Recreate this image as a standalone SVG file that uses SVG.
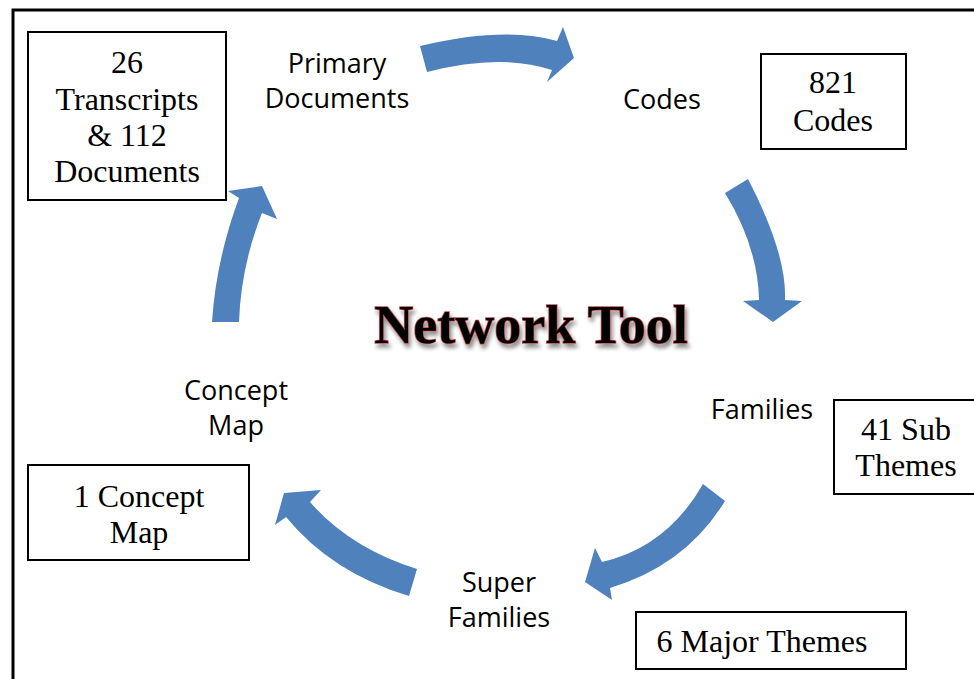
<svg xmlns="http://www.w3.org/2000/svg" width="974" height="679" viewBox="0 0 974 679">
<defs>
<style>
.box{fill:#fff;stroke:#000;stroke-width:2}
.bt{font-family:"Liberation Serif","Times New Roman",serif;font-size:32px;fill:#000;text-anchor:middle}
.lb{font-family:"Open Sans","Liberation Sans",sans-serif;font-size:27px;fill:#000;text-anchor:middle}
.arr{fill:#4F81BD}
.title{font-family:"Liberation Serif","Times New Roman",serif;font-weight:bold;font-size:54px;fill:#000;stroke:#c0504d;stroke-width:1.5;paint-order:stroke;text-anchor:middle}
</style>
<filter id="sh" x="-10%" y="-30%" width="120%" height="170%">
<feGaussianBlur in="SourceAlpha" stdDeviation="2"/>
<feOffset dx="2" dy="4" result="b"/>
<feComponentTransfer><feFuncA type="linear" slope="0.45"/></feComponentTransfer>
<feMerge><feMergeNode/><feMergeNode in="SourceGraphic"/></feMerge>
</filter>
</defs>
<rect width="974" height="679" fill="#fff"/>
<rect x="13" y="10" width="990" height="700" fill="none" stroke="#000" stroke-width="3"/>

<g id="connectors">
<path class="arr" d="M420,46 Q505,26 557,41 L563,27 L574,58 L547,82 L552,70 Q500,53 427,72 Z"/>
<path class="arr" d="M725,193 L748,179 Q787,254 785,300 L802,301 L773,322 L743,301 L759,300 Q758,247 725,193 Z"/>
<path class="arr" d="M703,484 L725,501 Q686,565 610,588 L612,600 L585,582 L595,548 L602,562 Q667,547 703,484 Z"/>
<path class="arr" d="M417,569 L409,596 Q332,573 286,517 L275,525 L284,493 L321,490 L310,502 Q350,548 417,569 Z"/>
<path class="arr" d="M212,322 L239,322 Q241,266 262,213 L277,219 L262,186 L228,191 L239,198 Q216,260 212,322 Z"/>
</g>

<g id="title"><text class="title" x="531" y="343" filter="url(#sh)">Network Tool</text></g>

<g id="primary-documents"><text class="lb" x="337" y="73">Primary</text><text class="lb" x="337" y="108">Documents</text></g>
<g id="codes"><text class="lb" x="662" y="109">Codes</text></g>
<g id="families"><text class="lb" x="762" y="419">Families</text></g>
<g id="super-families"><text class="lb" x="499" y="592">Super</text><text class="lb" x="499" y="627">Families</text></g>
<g id="concept-map"><text class="lb" x="236" y="400">Concept</text><text class="lb" x="236" y="435">Map</text></g>

<g id="box-transcripts"><rect class="box" x="28" y="32" width="198" height="168"/>
<text class="bt" x="127" y="73">26</text><text class="bt" x="127" y="110">Transcripts</text><text class="bt" x="127" y="146">&amp; 112</text><text class="bt" x="127" y="182">Documents</text></g>
<g id="box-codes"><rect class="box" x="761" y="54" width="145" height="95"/>
<text class="bt" x="833" y="93">821</text><text class="bt" x="833" y="131">Codes</text></g>
<g id="box-subthemes"><rect class="box" x="834" y="400" width="145" height="94"/>
<text class="bt" x="906" y="440">41 Sub</text><text class="bt" x="906" y="476">Themes</text></g>
<g id="box-concept"><rect class="box" x="28" y="465" width="221" height="95"/>
<text class="bt" x="139" y="507">1 Concept</text><text class="bt" x="139" y="543">Map</text></g>
<g id="box-major"><rect class="box" x="636" y="612" width="270" height="57"/>
<text class="bt" x="762" y="652">6 Major Themes</text></g>
</svg>
